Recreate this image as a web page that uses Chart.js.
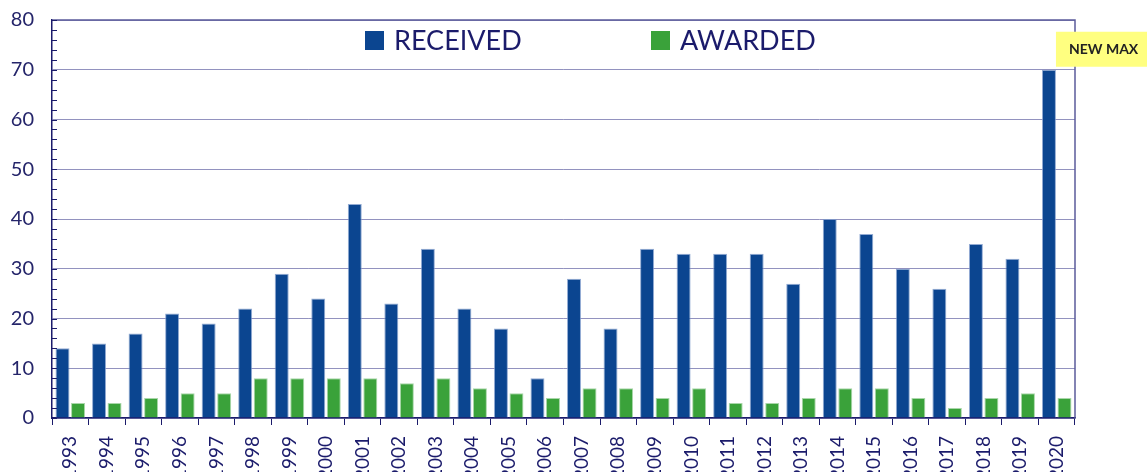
<!DOCTYPE html>
<html>
<head>
<meta charset="utf-8">
<script src="https://cdn.jsdelivr.net/npm/chart.js@4/dist/chart.umd.min.js"></script>
<style>
  body { margin: 0; background: #fff; overflow: hidden; }
  #wrap { width: 1147px; height: 472px; }
</style>
</head>
<body>
<div id="wrap"><canvas id="myChart" width="1147" height="472"></canvas></div>
<script>
// values
const years = ['1993','1994','1995','1996','1997','1998','1999','2000','2001','2002',
  '2003','2004','2005','2006','2007','2008','2009','2010','2011','2012',
  '2013','2014','2015','2016','2017','2018','2019','2020']
const received = [14,15,17,21,19,22,29,24,43,23,34,22,18,8,28,18,34,33,33,33,27,40,37,30,26,35,32,70]
const awarded = [3,3,4,5,5,8,8,8,8,7,8,6,5,4,6,6,4,6,3,3,4,6,6,4,2,4,5,4]
const seriesNames = ['RECEIVED', 'AWARDED']
const calloutText = 'NEW MAX'

const navy = '#1b1b6b'
const blue = '#0b4590'
const green = '#3aa23a'

// legend drawn inside the plot, plus frame, minor ticks and callout
const extras = {
  id: 'extras',
  afterDatasetsDraw(chart) {
    const ctx = chart.ctx
    const area = chart.chartArea
    const y = chart.scales.y

    ctx.save()
    // frame top/right
    ctx.strokeStyle = '#5b5b9b'
    ctx.lineWidth = 1.5
    ctx.beginPath()
    ctx.moveTo(area.left, area.top)
    ctx.lineTo(area.right, area.top)
    ctx.lineTo(area.right, area.bottom)
    ctx.stroke()

    // small ticks on the left axis every 2 units
    ctx.strokeStyle = navy
    ctx.lineWidth = 1
    for (let v = 0; v <= 80; v += 2) {
      const py = Math.round(y.getPixelForValue(v)) + 0.5
      ctx.beginPath()
      ctx.moveTo(area.left, py)
      ctx.lineTo(area.left + 5, py)
      ctx.stroke()
    }

    // legend
    const legendX = [area.left + 313, area.left + 599]
    ctx.font = '27px Lato'
    ctx.textBaseline = 'middle'
    chart.data.datasets.forEach((ds, i) => {
      ctx.fillStyle = ds.backgroundColor
      ctx.fillRect(legendX[i], area.top + 11, 19, 19)
      ctx.fillStyle = navy
      ctx.fillText(ds.label, legendX[i] + 29, area.top + 21)
    })

    // callout above the last received bar
    const meta = chart.getDatasetMeta(0)
    const bar = meta.data[meta.data.length - 1]
    const bx = bar.x + bar.width / 2
    const by = bar.y - 3
    ctx.fillStyle = '#ffff80'
    ctx.fillRect(bx, by - 35, 100, 35)
    ctx.fillStyle = '#222'
    ctx.font = 'bold 14px Lato'
    ctx.textAlign = 'left'
    ctx.fillText(calloutText, bx + 13, by - 17)
    ctx.restore()
  }
}

const data = {
  labels: years,
  datasets: [{
    label: seriesNames[0],
    data: received,
    backgroundColor: blue,
    borderColor: 'rgba(120,150,200,0.8)',
    borderWidth: 1,
    categoryPercentage: 0.85,
    barPercentage: 0.9
  }, {
    label: seriesNames[1],
    data: awarded,
    backgroundColor: green,
    borderColor: 'rgba(160,210,160,0.9)',
    borderWidth: 1,
    categoryPercentage: 0.85,
    barPercentage: 0.9
  }]
}

const config = {
  type: 'bar',
  data: data,
  options: {
    responsive: false,
    animation: false,
    layout: { padding: { top: 0, right: 72, left: 0, bottom: 0 } },
    plugins: {
      legend: { display: false },
      tooltip: { enabled: false }
    },
    scales: {
      x: {
        grid: {
          offset: true,
          drawOnChartArea: false,
          color: navy,
          tickLength: 7
        },
        border: { color: navy, width: 1.5 },
        ticks: {
          color: navy,
          font: { family: 'Lato', size: 19 },
          minRotation: 90,
          maxRotation: 90,
          padding: 11,
          autoSkip: false
        },
        afterFit: s => { s.height = 54 }
      },
      y: {
        min: 0,
        max: 80,
        grid: {
          color: 'rgba(110,110,170,0.75)',
          drawTicks: false
        },
        border: { color: navy, width: 1.5 },
        ticks: {
          stepSize: 10,
          color: '#25256a',
          font: { family: 'Lato', size: 20 },
          padding: 18
        },
        afterFit: s => {
          s.width = 52
          s.paddingTop = 20
          s.paddingBottom = 0
        }
      }
    }
  },
  plugins: [extras]
}

const myChart = new Chart(document.getElementById('myChart'), config)
</script>
</body>
</html>
